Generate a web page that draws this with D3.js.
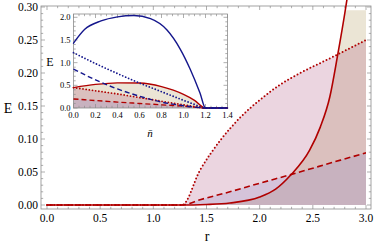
<!DOCTYPE html>
<html>
<head>
<meta charset="utf-8">
<script src="https://cdn.jsdelivr.net/npm/d3@7"></script>
<style>
  body { margin: 0; background: #fff; }
  svg { display: block; font-family: "Liberation Serif", "DejaVu Serif", serif; }
</style>
</head>
<body>
<svg id="chart" width="374" height="249"></svg>
<script>
// main plot: E(r) for the three red curves
var rSolid = [0, 1.25, 1.5, 1.72, 2.0, 2.15, 2.29, 2.47, 2.57, 2.66, 2.73, 2.81, 2.9, 3.0];
var eSolid = [0, 0, 0.0008, 0.003, 0.012, 0.024, 0.045, 0.083, 0.118, 0.164, 0.224, 0.30, 0.40, 0.52];
var rDotted = [0, 1.27, 1.44, 1.63, 1.82, 2.0, 2.19, 2.38, 2.57, 2.78, 3.0];
var eDotted = [0, 0, 0.053, 0.098, 0.133, 0.159, 0.182, 0.2, 0.215, 0.232, 0.25];
var rDashed = [0, 1.27, 1.44, 1.72, 2.0, 2.29, 2.76, 3.0];
var eDashed = [0, 0, 0.008, 0.020, 0.033, 0.046, 0.068, 0.079];
var xTicks = [0, 0.5, 1.0, 1.5, 2.0, 2.5, 3.0];
var yTicks = [0, 0.05, 0.10, 0.15, 0.20, 0.25, 0.30];

// inset: E(n bar)
var nBlue = [0, 0.1, 0.25, 0.4, 0.55, 0.7, 0.85, 0.97, 1.06, 1.15, 1.2, 1.4];
var eBlue = [1.43, 1.73, 1.92, 2.01, 2.04, 1.97, 1.72, 1.3, 0.86, 0.33, 0, 0];
var nIn = [0, 0.2, 0.4, 0.6, 0.8, 1.0, 1.1, 1.2, 1.4];
var eBlueDotted = [1.22, 0.98, 0.76, 0.55, 0.36, 0.17, 0.08, 0, 0];
var eBlueDashed = [0.86, 0.62, 0.42, 0.26, 0.13, 0.05, 0.02, 0, 0];
var eRedSolid = [0.45, 0.52, 0.555, 0.55, 0.47, 0.3, 0.17, 0, 0];
var eRedDotted = [0.45, 0.38, 0.31, 0.23, 0.15, 0.07, 0.03, 0, 0];
var eRedDashed = [0.2, 0.165, 0.13, 0.1, 0.07, 0.04, 0.02, 0, 0];
var nTicks = [0, 0.2, 0.4, 0.6, 0.8, 1.0, 1.2, 1.4];
var eInTicks = [0, 0.5, 1.0, 1.5, 2.0];

var red = "#b00000", blue = "#14168c", frameCol = "#8c8c8c";
var fillSolid = "rgb(155,125,45)", fillDotted = "rgb(155,45,100)", fillDashed = "rgb(125,125,195)";

var svg = d3.select("#chart");
var zip = function (xs, ys) { return xs.map(function (x, i) { return [x, ys[i]]; }); };

function frame(g, box, x, y, xt, yt, xMinor, yMinor, fs, fmtX, fmtY) {
    g.append("rect")
        .attr("x", box.x0).attr("y", box.y0)
        .attr("width", box.x1 - box.x0).attr("height", box.y1 - box.y0)
        .attr("fill", "none").attr("stroke", frameCol).attr("stroke-width", 0.8);
    var tk = g.append("g").attr("stroke", frameCol).attr("stroke-width", 0.7);
    xMinor.forEach(function (v) {
        var major = xt.some(function (t) { return Math.abs(t - v) < 1e-6; }), len = major ? 4 : 2.2;
        tk.append("line").attr("x1", x(v)).attr("x2", x(v)).attr("y1", box.y1).attr("y2", box.y1 - len);
        tk.append("line").attr("x1", x(v)).attr("x2", x(v)).attr("y1", box.y0).attr("y2", box.y0 + len);
    });
    yMinor.forEach(function (v) {
        var major = yt.some(function (t) { return Math.abs(t - v) < 1e-6; }), len = major ? 4 : 2.2;
        tk.append("line").attr("y1", y(v)).attr("y2", y(v)).attr("x1", box.x0).attr("x2", box.x0 + len);
        tk.append("line").attr("y1", y(v)).attr("y2", y(v)).attr("x1", box.x1).attr("x2", box.x1 - len);
    });
    g.selectAll("text.xt").data(xt).enter().append("text")
        .attr("class", "xt")
        .attr("x", function (d) { return x(d); })
        .attr("y", box.y1 + fs + 1)
        .attr("text-anchor", "middle")
        .style("font-size", fs + "px")
        .text(fmtX);
    g.selectAll("text.yt").data(yt).enter().append("text")
        .attr("class", "yt")
        .attr("x", box.x0 - 3)
        .attr("y", function (d) { return y(d); })
        .attr("dy", "0.35em")
        .attr("text-anchor", "end")
        .style("font-size", fs + "px")
        .text(fmtY);
}

// ---------- main plot ----------
var x = d3.scaleLinear().domain([0, 3]).range([47, 366]);
var y = d3.scaleLinear().domain([0, 0.3]).range([205, 7]);
var mainBox = {x0: 41, x1: 371, y0: 6, y1: 209};

var defs = svg.append("defs");
defs.append("clipPath").attr("id", "clipFill").append("rect")
    .attr("x", x(0)).attr("y", y(0.295)).attr("width", x(3) - x(0)).attr("height", y(0) - y(0.295));
defs.append("clipPath").attr("id", "clipLine").append("rect")
    .attr("x", 0).attr("y", 0).attr("width", x(3)).attr("height", 249);

var area = d3.area().x(function (d) { return x(d[0]); }).y0(y(0)).y1(function (d) { return y(d[1]); }).curve(d3.curveMonotoneX);
var line = d3.line().x(function (d) { return x(d[0]); }).y(function (d) { return y(d[1]); }).curve(d3.curveMonotoneX);

var main = svg.append("g");
var fills = main.append("g").attr("clip-path", "url(#clipFill)");
[[rSolid, eSolid, fillSolid], [rDotted, eDotted, fillDotted], [rDashed, eDashed, fillDashed]].forEach(function (s) {
    fills.append("path").datum(zip(s[0], s[1]))
        .attr("d", area).attr("fill", s[2]).attr("fill-opacity", 0.2);
});

frame(main, mainBox, x, y, xTicks, yTicks, d3.range(0, 3.001, 0.1), d3.range(0, 0.3001, 0.01), 11.5,
    d3.format(".1f"), d3.format(".2f"));

var lines = main.append("g").attr("clip-path", "url(#clipLine)").attr("fill", "none").attr("stroke", red)
    .attr("stroke-width", 1.6).attr("stroke-linecap", "round");
lines.append("path").datum(zip(rDashed, eDashed)).attr("d", line).attr("stroke-dasharray", "6,3.5").attr("stroke-linecap", "butt");
lines.append("path").datum(zip(rDotted, eDotted)).attr("d", line).attr("stroke-dasharray", "0,3.6").attr("stroke-width", 2);
lines.append("path").datum(zip(rSolid, eSolid)).attr("d", line);

svg.append("text").attr("x", 8).attr("y", 108).attr("dy", "0.35em").attr("text-anchor", "middle")
    .style("font-size", "14px").text("E");
svg.append("text").attr("x", 207).attr("y", 236).attr("dy", "0.35em").attr("text-anchor", "middle")
    .style("font-size", "14px").text("r");

// ---------- inset ----------
var xi = d3.scaleLinear().domain([0, 1.4]).range([73.5, 227.5]);
var yi = d3.scaleLinear().domain([0, 2.0]).range([108, 17.3]);
var inBox = {x0: 73.5, x1: 227.5, y0: 14, y1: 108};

var inset = svg.append("g");
// white backing only behind the inset frame
inset.append("rect").attr("x", inBox.x0).attr("y", inBox.y0)
    .attr("width", inBox.x1 - inBox.x0).attr("height", inBox.y1 - inBox.y0).attr("fill", "#fff");

var areaI = d3.area().x(function (d) { return xi(d[0]); }).y0(yi(0)).y1(function (d) { return yi(d[1]); }).curve(d3.curveMonotoneX);
var lineI = d3.line().x(function (d) { return xi(d[0]); }).y(function (d) { return yi(d[1]); }).curve(d3.curveMonotoneX);

[[eRedSolid, fillSolid], [eRedDotted, fillDotted], [eRedDashed, fillDashed]].forEach(function (s) {
    inset.append("path").datum(zip(nIn, s[0]))
        .attr("d", areaI).attr("fill", s[1]).attr("fill-opacity", 0.2);
});

frame(inset, inBox, xi, yi, nTicks, eInTicks, d3.range(0, 1.4001, 0.05), d3.range(0, 2.05, 0.1), 8.5,
    d3.format(".1f"), d3.format(".1f"));

var linesI = inset.append("g").attr("fill", "none").attr("stroke-width", 1.4).attr("stroke-linecap", "round");
linesI.append("path").datum(zip(nIn, eRedDashed)).attr("d", lineI).attr("stroke", red).attr("stroke-dasharray", "5,3").attr("stroke-linecap", "butt");
linesI.append("path").datum(zip(nIn, eRedDotted)).attr("d", lineI).attr("stroke", red).attr("stroke-dasharray", "0,3.2").attr("stroke-width", 1.8);
linesI.append("path").datum(zip(nIn, eRedSolid)).attr("d", lineI).attr("stroke", red);
linesI.append("path").datum(zip(nIn, eBlueDashed)).attr("d", lineI).attr("stroke", blue).attr("stroke-dasharray", "5,3").attr("stroke-linecap", "butt");
linesI.append("path").datum(zip(nIn, eBlueDotted)).attr("d", lineI).attr("stroke", blue).attr("stroke-dasharray", "0,3.2").attr("stroke-width", 1.8);
linesI.append("path").datum(zip(nBlue, eBlue)).attr("d", lineI).attr("stroke", blue);

inset.append("text").attr("x", 50).attr("y", 62).attr("dy", "0.35em").attr("text-anchor", "middle")
    .style("font-size", "12px").text("E");
inset.append("text").attr("x", 150).attr("y", 133).attr("dy", "0.35em").attr("text-anchor", "middle")
    .style("font-size", "11px").style("font-style", "italic").text("n\u0304");
</script>
</body>
</html>
